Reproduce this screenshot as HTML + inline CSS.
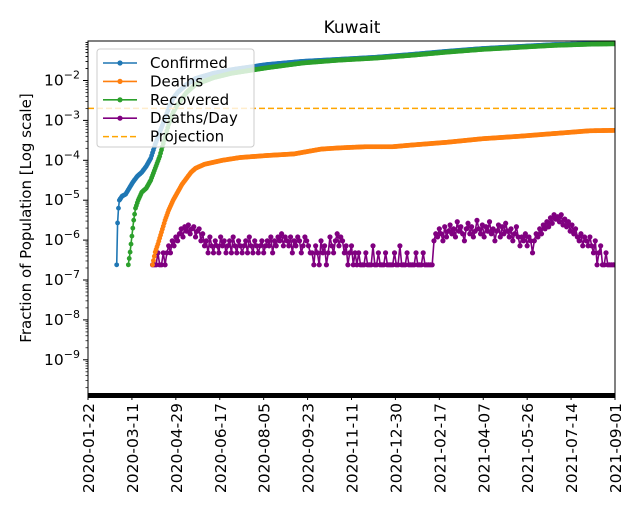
<!DOCTYPE html>
<html><head><meta charset="utf-8"><style>
body{margin:0;background:#fff;}
svg{font-family:"DejaVu Sans","Liberation Sans",sans-serif;}
</style></head><body>
<svg id="c" width="640" height="520" viewBox="0 0 640 520"></svg>
<script>
const startDay=0, endDay=588;
const xTickLabels=["2020-01-22","2020-03-11","2020-04-29","2020-06-17","2020-08-05","2020-09-23","2020-11-11","2020-12-30","2021-02-17","2021-04-07","2021-05-26","2021-07-14","2021-09-01"];
const yTickExps=[-9,-8,-7,-6,-5,-4,-3,-2];
const confirmedDays=[32,33,34,35,38,42,46,50,55,60,65,70,75,80,85,90,95,100,110,120,140,160,200,240,280,320,360,400,440,480,520,560,588];
const confirmedLog=[-6.62,-5.57,-5.2,-5.0,-4.9,-4.85,-4.7,-4.55,-4.4,-4.3,-4.15,-3.95,-3.6,-3.3,-3.0,-2.7,-2.45,-2.3,-2.1,-1.95,-1.82,-1.73,-1.6,-1.52,-1.47,-1.42,-1.35,-1.27,-1.2,-1.15,-1.1,-1.08,-1.07];
const recoveredDays=[45,47,49,51,53,56,60,65,70,75,80,85,90,95,100,110,120,140,160,200,240,280,320,360,400,440,480,520,560,588];
const recoveredLog=[-6.62,-6.3,-5.9,-5.5,-5.2,-5.0,-4.8,-4.7,-4.5,-4.2,-3.9,-3.5,-3.1,-2.8,-2.6,-2.3,-2.1,-1.93,-1.82,-1.68,-1.56,-1.49,-1.44,-1.37,-1.29,-1.22,-1.17,-1.12,-1.09,-1.08];
const deathsDays=[72,75,78,82,86,90,95,100,105,110,115,120,130,150,170,200,230,260,280,310,340,360,400,440,480,520,560,588];
const deathsLog=[-6.62,-6.3,-6.1,-5.8,-5.5,-5.25,-5.0,-4.8,-4.6,-4.45,-4.3,-4.2,-4.1,-4.0,-3.93,-3.88,-3.84,-3.72,-3.69,-3.66,-3.66,-3.62,-3.55,-3.46,-3.4,-3.33,-3.26,-3.25];
const deathsPerDayStart=72, deathsPerDayStep=2;
const deathsPerDayCount=[1,1,1,2,1,1,2,1,2,
3,2,4,3,5,4,6,8,5,9,7,10,6,8,9,5,7,8,4,6,
3,4,2,5,3,2,4,3,2,5,3,4,2,3,4,2,5,3,2,4,3,2,3,4,2,5,3,2,4,3,2,3,4,2,3,
4,3,5,2,4,3,5,4,6,3,5,4,3,5,2,4,3,5,4,2,3,5,4,3,2,
2,1,3,2,1,4,2,3,1,2,5,3,2,4,6,3,5,4,2,3,1,2,3,1,2,1,2,1,
1,1,2,1,1,1,3,1,1,2,1,1,1,2,1,1,1,1,2,1,1,3,1,1,1,2,1,1,1,1,2,1,1,1,2,1,1,1,1,1,
4,6,5,8,6,4,9,5,7,10,6,8,5,12,7,9,6,4,8,11,6,9,5,7,13,8,6,10,5,9,7,12,6,8,4,7,10,5,9,6,11,7,5,8,4,6,9,5,
3,5,4,6,3,5,4,2,4,6,5,8,6,10,8,12,9,15,11,18,14,16,12,18,10,14,9,12,7,10,6,8,5,4,6,3,5,4,3,5,
3,2,4,1,2,3,1,1,2,1,1,1,1,1];
const projection=-2.7;
</script>
<script>
const svg=document.getElementById('c');const NS='http://www.w3.org/2000/svg';
const L=88,R=615,T=41,B=395;
const xs=d=>L+(d-startDay)/(endDay-startDay)*(R-L);
const ys=e=>80.5+(-2-e)*39.9;
function mk(tag,attrs,parent){const el=document.createElementNS(NS,tag);for(const k in attrs)el.setAttribute(k,attrs[k]);(parent||svg).appendChild(el);return el;}
const t=mk('text',{x:352,y:33,'font-size':17,'text-anchor':'middle'});t.textContent='Kuwait';


const clip=mk('clipPath',{id:'cp'});mk('rect',{x:L,y:T,width:R-L,height:B-T},clip);
const plot=mk('g',{'clip-path':'url(#cp)'});


function series(days,vals,color,name){
  const g=mk('g',{},plot);
  
  
  const pts=days.map((d,i)=>xs(d).toFixed(1)+','+ys(vals[i]).toFixed(1));
  mk('polyline',{points:pts.join(' '),fill:'none',stroke:color,'stroke-width':1.6},g);
  for(let i=0;i<days.length-1;i++){for(let d=days[i];d<days[i+1];d++){const f=(d-days[i])/(days[i+1]-days[i]);mk('circle',{cx:xs(d),cy:ys(vals[i]+f*(vals[i+1]-vals[i])),r:2.4,fill:color},g);}}
  mk('circle',{cx:xs(days[days.length-1]),cy:ys(vals[vals.length-1]),r:2.4,fill:color},g);
}
const pop=2.4e-7;
const dpd=mk('g',{},plot);


const dp=deathsPerDayCount.map((c,i)=>[xs(deathsPerDayStart+i*deathsPerDayStep),ys(Math.log10(c*pop))]);
mk('polyline',{points:dp.map(p=>p[0].toFixed(1)+','+p[1].toFixed(1)).join(' '),fill:'none',stroke:'#800080','stroke-width':1.6},dpd);
dp.forEach(p=>mk('circle',{cx:p[0],cy:p[1],r:2.6,fill:'#800080'},dpd));
series(deathsDays,deathsLog,'#ff7f0e','deaths-series');
series(confirmedDays,confirmedLog,'#1f77b4','confirmed-series');
series(recoveredDays,recoveredLog,'#2ca02c','recovered-series');
const pl=mk('line',{x1:L,x2:R,y1:ys(projection),y2:ys(projection),stroke:'#ffa500','stroke-width':1.5,'stroke-dasharray':'6,3'},plot);


mk('rect',{x:L,y:T,width:R-L,height:B-T,fill:'none',stroke:'#000','stroke-width':1});
const band=mk('rect',{x:L,y:B-2,width:R-L,height:5,fill:'#000'});


for(let i=0;i<xTickLabels.length;i++){const x=xs(i*49);mk('line',{x1:x,x2:x,y1:B,y2:B+5,stroke:'#000'});
  const tx=mk('text',{x:0,y:0,'font-size':15.5,'text-anchor':'end',transform:`translate(${x+6},${B+8}) rotate(-90)`});tx.textContent=xTickLabels[i];
  
  }
for(const e of yTickExps){const y=ys(e);mk('line',{x1:L-5,x2:L,y1:y,y2:y,stroke:'#000'});
  for(let m=2;m<10;m++){const ym=ys(e+Math.log10(m));if(ym>T&&ym<B)mk('line',{x1:L-2.5,x2:L,y1:ym,y2:ym,stroke:'#000','stroke-width':0.7});}
  const tx=mk('text',{x:L-8,y:y+5,'font-size':15.5,'text-anchor':'end'});tx.innerHTML='10<tspan dy="-7" font-size="11">\u2212'+(-e)+'</tspan>';
  
  }
for(let m=2;m<10;m++){const ym=ys(-10+Math.log10(m));if(ym>T&&ym<B)mk('line',{x1:L-2.5,x2:L,y1:ym,y2:ym,stroke:'#000','stroke-width':0.7});}
for(let m=2;m<10;m++){const ym=ys(-2+Math.log10(m));if(ym>T&&ym<B)mk('line',{x1:L-2.5,x2:L,y1:ym,y2:ym,stroke:'#000','stroke-width':0.7});}
const yl=mk('text',{x:0,y:0,'font-size':15,'text-anchor':'middle',transform:'translate(31,218) rotate(-90)'});yl.textContent='Fraction of Population [Log scale]';


const lg=mk('g',{});


mk('rect',{x:97,y:49,width:157,height:98,rx:3,fill:'rgba(255,255,255,0.8)',stroke:'#ccc'},lg);
const items=[['Confirmed','#1f77b4',0],['Deaths','#ff7f0e',0],['Recovered','#2ca02c',0],['Deaths/Day','#800080',0],['Projection','#ffa500',1]];
items.forEach((it,i)=>{const y=63+i*18.4;const e=mk('g',{},lg);
  
  
  if(it[2])mk('line',{x1:103,x2:137,y1:y,y2:y,stroke:it[1],'stroke-width':1.5,'stroke-dasharray':'6,3'},e);
  else{mk('line',{x1:103,x2:137,y1:y,y2:y,stroke:it[1],'stroke-width':1.6},e);mk('circle',{cx:120,cy:y,r:2.6,fill:it[1]},e);}
  const tx=mk('text',{x:150,y:y+5,'font-size':15},e);tx.textContent=it[0];});
</script>
</body></html>
